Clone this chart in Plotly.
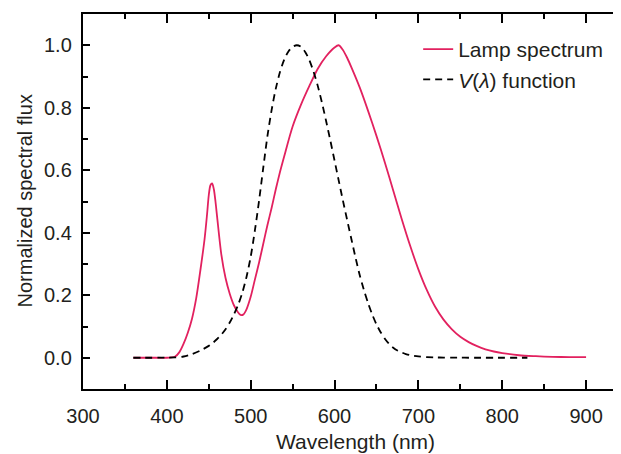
import plotly.graph_objects as go

# ---- data ----
v_wl = [360, 370, 380, 390, 400, 410, 420, 430, 440, 450, 455, 460, 465, 470, 475, 480,
        485, 490, 495, 500, 505, 510, 515, 520, 525, 530, 535, 540, 545, 550, 555, 560,
        565, 570, 575, 580, 585, 590, 595, 600, 605, 610, 615, 620, 625, 630, 635, 640,
        645, 650, 655, 660, 665, 670, 675, 680, 685, 690, 700, 710, 720, 730, 740, 750,
        760, 770, 780, 790, 800, 810, 820, 830]
v_val = [0.0000039, 0.0000122, 0.000039, 0.00012, 0.000396, 0.00121, 0.0040, 0.0116, 0.023,
         0.038, 0.048, 0.060, 0.0739, 0.09098, 0.1126, 0.13902, 0.1693, 0.20802, 0.2586,
         0.323, 0.4073, 0.503, 0.6082, 0.710, 0.7932, 0.862, 0.9149, 0.954, 0.9803, 0.99495,
         1.0, 0.995, 0.9786, 0.952, 0.9154, 0.870, 0.8163, 0.757, 0.6949, 0.631, 0.5668,
         0.503, 0.4412, 0.381, 0.3210, 0.265, 0.2170, 0.175, 0.1382, 0.107, 0.0816, 0.061,
         0.0446, 0.032, 0.0232, 0.017, 0.01192, 0.00821, 0.004102, 0.002091, 0.001047,
         0.00052, 0.000249, 0.00012, 0.00006, 0.00003, 0.000015, 0.0, 0.0, 0.0, 0.0, 0.0]

lamp_wl = [360, 380, 400, 405, 410, 415, 420, 425, 430, 435, 440, 445, 448, 450, 452, 454,
           456, 458, 460, 465, 470, 475, 480, 485, 488, 491, 495, 500, 505, 510, 515, 520,
           525, 530, 535, 540, 550, 560, 570, 580, 590, 600, 605, 610, 615, 620, 630, 640,
           650, 660, 670, 680, 690, 700, 710, 720, 730, 740, 750, 760, 770, 780, 790, 800,
           820, 840, 860, 880, 900]
lamp_val = [0.0, 0.0, 0.0, 0.001, 0.004, 0.018, 0.045, 0.08, 0.125, 0.19, 0.28, 0.38, 0.46,
            0.52, 0.552, 0.558, 0.54, 0.50, 0.45, 0.33, 0.255, 0.205, 0.168, 0.145, 0.137,
            0.138, 0.155, 0.195, 0.25, 0.305, 0.365, 0.425, 0.48, 0.54, 0.595, 0.645, 0.74,
            0.81, 0.87, 0.925, 0.965, 0.993, 1.0, 0.985, 0.96, 0.93, 0.865, 0.79, 0.71,
            0.625, 0.535, 0.445, 0.36, 0.283, 0.217, 0.163, 0.122, 0.091, 0.067, 0.05,
            0.037, 0.027, 0.02, 0.015, 0.008, 0.005, 0.003, 0.002, 0.002]

x_ticks = [300, 400, 500, 600, 700, 800, 900]
y_ticks = [0.0, 0.2, 0.4, 0.6, 0.8, 1.0]
y_tick_text = ["0.0", "0.2", "0.4", "0.6", "0.8", "1.0"]
y_title = "Normalized spectral flux"
x_title = "Wavelength (nm)"

FONT = "Liberation Sans, Arial, Helvetica, sans-serif"
TXT = "#231f20"

fig = go.Figure()
fig.add_trace(go.Scatter(x=lamp_wl, y=lamp_val, mode="lines", name="Lamp spectrum",
                         line=dict(color="#e2215f", width=1.8, shape="spline", smoothing=0.8)))
fig.add_trace(go.Scatter(x=v_wl, y=v_val, mode="lines", name="<i>V</i>(<i>λ</i>) function",
                         line=dict(color="black", width=1.8, dash="7px,5px", shape="spline",
                                   smoothing=0.8)))
fig.add_trace(go.Scatter(x=[], y=[], yaxis="y2", showlegend=False, hoverinfo="skip"))

# y tick labels placed through the y scale (right-aligned next to the axis)
annotations = [dict(x=0, xref="paper", y=v, yref="y", text=t, showarrow=False,
                    xanchor="right", yanchor="middle", xshift=-9,
                    font=dict(family=FONT, size=20, color=TXT))
               for v, t in zip(y_ticks, y_tick_text)]
annotations.append(dict(x=0, xref="paper", y=0.5, yref="paper", text=y_title,
                        showarrow=False, textangle=-90, xanchor="center", yanchor="middle",
                        xshift=-59, font=dict(family=FONT, size=20, color=TXT)))

fig.update_layout(
    width=621, height=454,
    margin=dict(l=75, r=1, t=6, b=73),
    paper_bgcolor="white", plot_bgcolor="white",
    font=dict(family=FONT, size=20, color=TXT),
    xaxis=dict(range=[300, 950], tickvals=x_ticks, ticks="inside", ticklen=9, tickwidth=2,
               tickcolor="black", showline=True, linewidth=2, linecolor="black",
               mirror="ticks", showgrid=False, zeroline=False, color=TXT,
               tickfont=dict(family=FONT, size=20, color=TXT),
               minor=dict(ticks="inside", ticklen=5, tickwidth=2, tickcolor="black", dtick=50,
                          tick0=300),
               ticklabelstandoff=8,
               title=dict(text=x_title, font=dict(family=FONT, size=21, color=TXT),
                          standoff=8)),
    yaxis=dict(range=[-0.1, 1.1], tickvals=y_ticks, ticks="inside", showticklabels=False,
               ticklen=7, tickwidth=2, tickcolor="black", showline=True, linewidth=2,
               linecolor="black", mirror=False, showgrid=False, zeroline=False,
               minor=dict(ticks="inside", ticklen=5, tickwidth=2, tickcolor="black",
                          dtick=0.1, tick0=0)),
    yaxis2=dict(range=[-0.1, 1.1], overlaying="y", side="right", anchor="x",
                tickvals=y_ticks, ticks="inside", ticklen=10, tickwidth=2, tickcolor="black",
                showticklabels=False, showline=False, showgrid=False, zeroline=False,
                minor=dict(ticks="inside", ticklen=10, tickwidth=2, tickcolor="black",
                           dtick=0.1, tick0=0)),
    legend=dict(x=0.615, y=0.96, xanchor="left", yanchor="top", bgcolor="rgba(0,0,0,0)",
                font=dict(family=FONT, size=21, color=TXT)),
    annotations=annotations,
    showlegend=True,
)

fig.write_html("out.html")
